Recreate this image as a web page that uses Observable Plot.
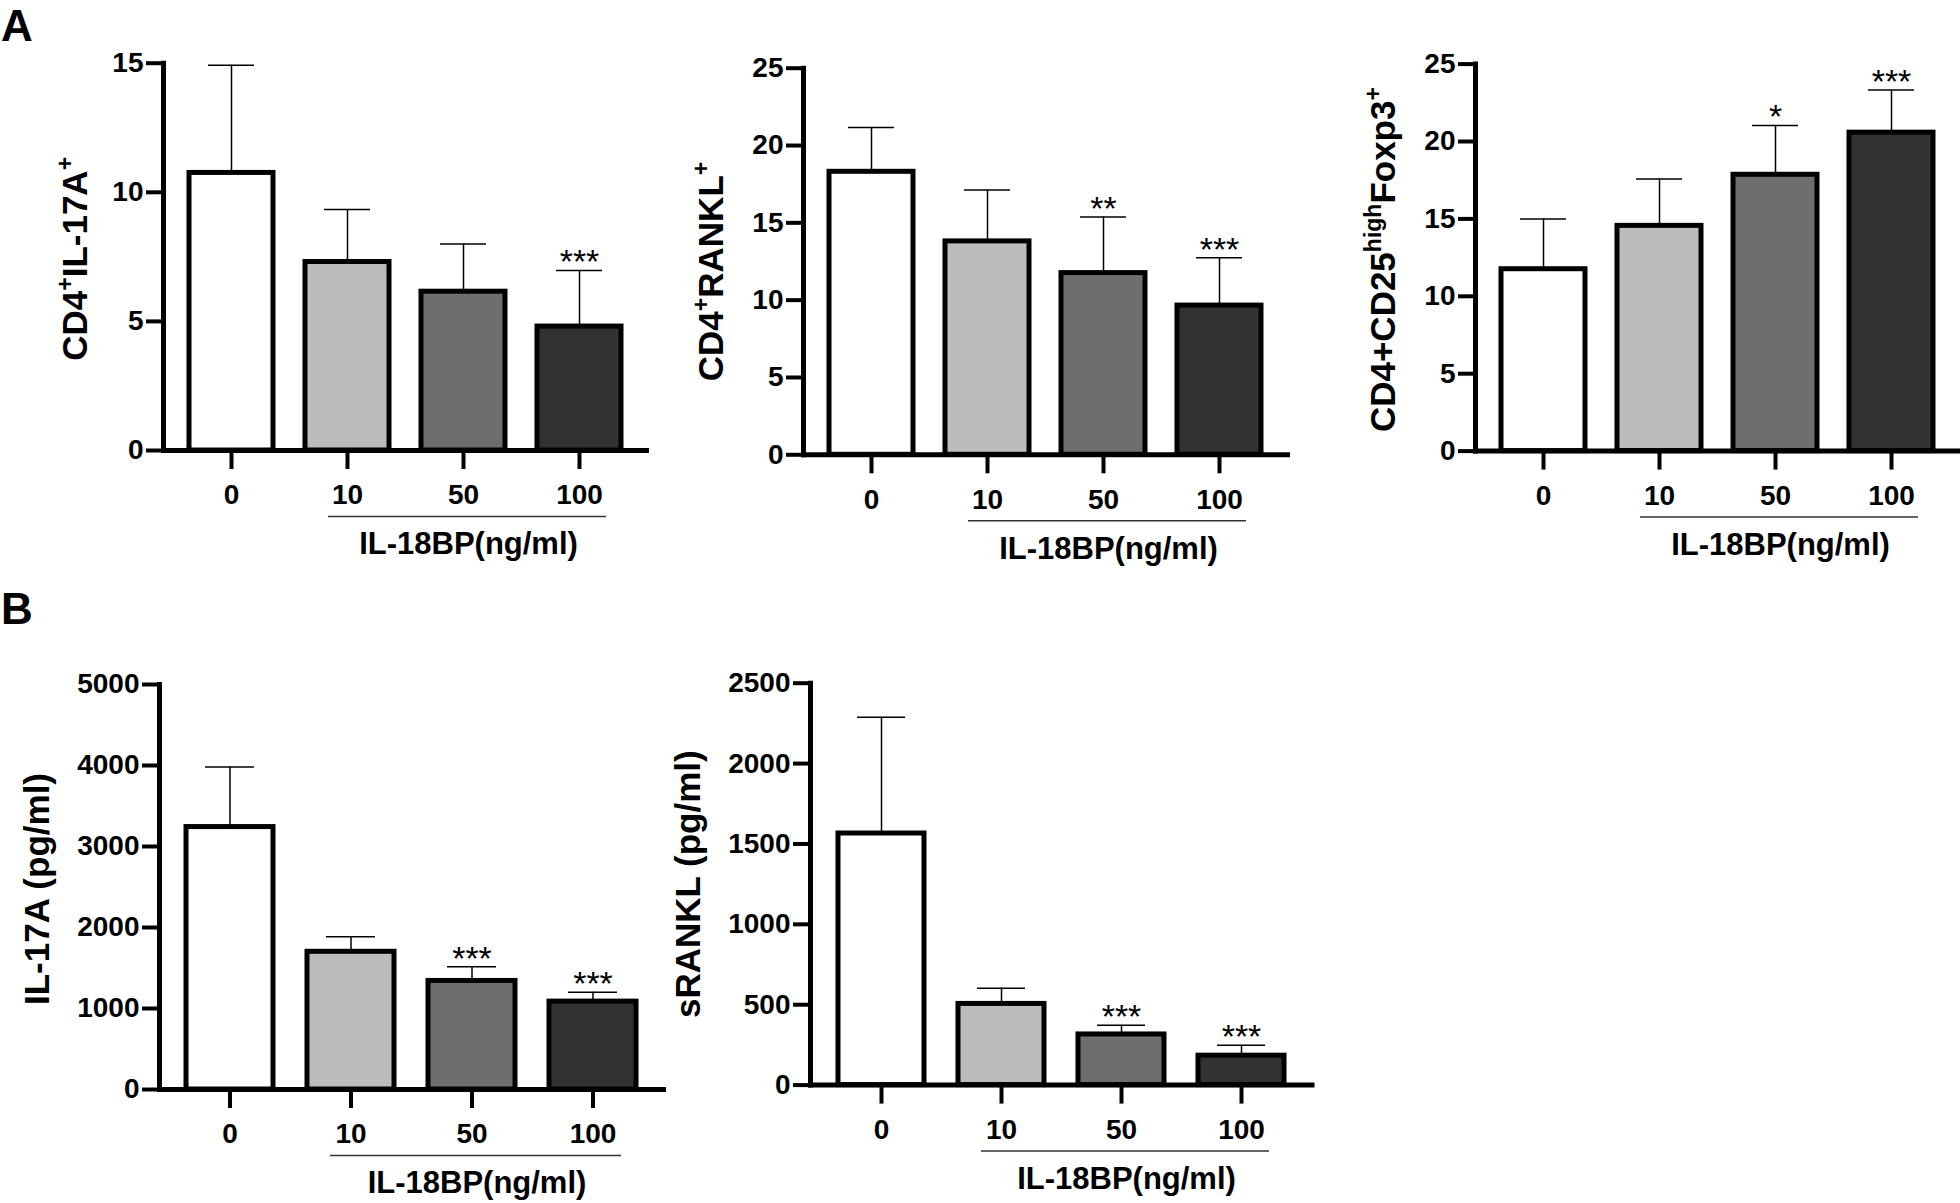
<!DOCTYPE html>
<html>
<head>
<meta charset="utf-8">
<script src="https://cdn.jsdelivr.net/npm/d3@7"></script>
<script src="https://cdn.jsdelivr.net/npm/@observablehq/plot@0.6"></script>
<style>
  html, body { margin: 0; padding: 0; background: #ffffff; }
  #fig { position: relative; width: 1960px; height: 1203px; overflow: hidden;
         font-family: "Liberation Sans", Arial, Helvetica, sans-serif; color: #000; }
  .panel { position: absolute; }
  .tag { position: absolute; font-weight: bold; font-size: 44px; line-height: 1; }
</style>
</head>
<body>
<div id="fig">
  <div class="tag" style="left:1px; top:4px;">A</div>
  <div class="tag" style="left:1px; top:587px;">B</div>
</div>
<script>
// ---------- data ----------
const doses = ["0", "10", "50", "100"];
const barFills = ["#ffffff", "#bcbcbc", "#6e6e6e", "#323232"];
const xTitle = "IL-18BP(ng/ml)";

const il17aPctMean = [10.75, 7.3, 6.15, 4.8];
const il17aPctSD   = [4.17, 2.03, 1.85, 2.17];
const il17aPctSig  = ["", "", "", "***"];
const il17aPctTicks = [0, 5, 10, 15];

const ranklPctMean = [18.3, 13.8, 11.75, 9.65];
const ranklPctSD   = [2.87, 3.33, 3.63, 3.1];
const ranklPctSig  = ["", "", "**", "***"];
const ranklPctTicks = [0, 5, 10, 15, 20, 25];

const tregPctMean = [11.75, 14.55, 17.85, 20.57];
const tregPctSD   = [3.25, 3.02, 3.18, 2.76];
const tregPctSig  = ["", "", "*", "***"];
const tregPctTicks = [0, 5, 10, 15, 20, 25];

const il17aConcMean = [3240, 1700, 1340, 1085];
const il17aConcSD   = [740, 187, 175, 115];
const il17aConcSig  = ["", "", "***", "***"];
const il17aConcTicks = [0, 1000, 2000, 3000, 4000, 5000];

const sranklConcMean = [1565, 505, 315, 183];
const sranklConcSD   = [723, 98, 57, 65];
const sranklConcSig  = ["", "", "***", "***"];
const sranklConcTicks = [0, 500, 1000, 1500, 2000, 2500];

// ---------- layout ----------
const panels = [
  {mean: il17aPctMean, sd: il17aPctSD, sig: il17aPctSig, ticks: il17aPctTicks, yLabel: "CD4^{+}IL-17A^{+}",
   left: 0, top: 0, width: 660, height: 580, mL: 163, mR: 14, mT: 62.7, mB: 130, labOff: 88, labDy: 2},
  {mean: ranklPctMean, sd: ranklPctSD, sig: ranklPctSig, ticks: ranklPctTicks, yLabel: "CD4^{+}RANKL^{+}",
   left: 660, top: 0, width: 650, height: 580, mL: 143, mR: 23, mT: 67.7, mB: 125.7, labOff: 92, labDy: 10},
  {mean: tregPctMean, sd: tregPctSD, sig: tregPctSig, ticks: tregPctTicks, yLabel: "CD4+CD25^{high}Foxp3^{+}",
   left: 1310, top: 0, width: 650, height: 580, mL: 165, mR: 2, mT: 63.6, mB: 129.4, labOff: 92, labDy: 2},
  {mean: il17aConcMean, sd: il17aConcSD, sig: il17aConcSig, ticks: il17aConcTicks, yLabel: "IL-17A (pg/ml)",
   left: 0, top: 580, width: 680, height: 623, mL: 159, mR: 17, mT: 104, mB: 114, labOff: 122, labDy: 2},
  {mean: sranklConcMean, sd: sranklConcSD, sig: sranklConcSig, ticks: sranklConcTicks, yLabel: "sRANKL (pg/ml)",
   left: 680, top: 580, width: 650, height: 623, mL: 130, mR: 18.5, mT: 102.7, mB: 118.4, labOff: 122, labDy: 0}
];

const FONT = "'Liberation Sans', Arial, Helvetica, sans-serif";

function applySuperscripts(svg) {
  svg.querySelectorAll("text").forEach((t) => {
    const s = t.textContent;
    if (!s.includes("^{")) return;
    while (t.firstChild) t.removeChild(t.firstChild);
    const re = /\^\{([^}]*)\}/g;
    let last = 0, m, shift = 0;
    const NS = "http://www.w3.org/2000/svg";
    const add = (str, sup) => {
      if (!str) return;
      const ts = document.createElementNS(NS, "tspan");
      ts.textContent = str;
      if (sup) {
        ts.setAttribute("font-size", "23");
        ts.setAttribute("dy", "-14");
        shift = 14;
      } else if (shift) {
        ts.setAttribute("dy", String(shift));
        shift = 0;
      }
      t.appendChild(ts);
    };
    while ((m = re.exec(s))) {
      add(s.slice(last, m.index), false);
      add(m[1], true);
      last = re.lastIndex;
    }
    add(s.slice(last), false);
  });
}

const fig = document.getElementById("fig");

for (const p of panels) {
  const rows = doses.map((d, i) => ({dose: d, mean: p.mean[i], sd: p.sd[i], sig: p.sig[i]}));
  const yMax = p.ticks[p.ticks.length - 1];
  const svg = Plot.plot({
    width: p.width,
    height: p.height,
    marginLeft: p.mL, marginRight: p.mR, marginTop: p.mT, marginBottom: p.mB,
    style: {fontFamily: FONT, fontWeight: "bold", color: "black", background: "transparent", overflow: "visible"},
    x: {type: "band", domain: doses, paddingInner: 0.28, paddingOuter: 0.22},
    y: {domain: [0, yMax]},
    color: {domain: doses, range: barFills},
    marks: [
      Plot.ruleX(rows, {x: "dose", y1: "mean", y2: (d) => d.mean + d.sd, stroke: "black", strokeWidth: 1.5}),
      Plot.tickY(rows, {x: "dose", y: (d) => d.mean + d.sd, insetLeft: 19, insetRight: 19, stroke: "black", strokeWidth: 1.5}),
      Plot.barY(rows, {x: "dose", y: "mean", fill: "dose", stroke: "black", strokeWidth: 5}),
      Plot.frame({anchor: "left", stroke: "black", strokeWidth: 5, strokeLinecap: "square"}),
      Plot.frame({anchor: "bottom", stroke: "black", strokeWidth: 5}),
      Plot.axisY({ticks: p.ticks, tickFormat: "d", tickSize: 17, tickPadding: 3, stroke: "black", strokeWidth: 4, fontSize: 28, label: null}),
      Plot.axisX({tickSize: 19, tickPadding: 15, stroke: "black", strokeWidth: 4, fontSize: 28, label: null}),
      Plot.ruleY([0], {x1: () => doses[1], x2: () => doses[3], dy: 66, insetLeft: 23, insetRight: 15, stroke: "#333333", strokeWidth: 1.5}),
      Plot.text([xTitle], {text: (d) => d, x: () => doses[2], frameAnchor: "bottom", dy: 94, dx: 5, fontSize: 31, lineAnchor: "middle"}),
      Plot.text([p.yLabel], {text: (d) => d, frameAnchor: "left", rotate: -90, dx: -p.labOff, dy: p.labDy, fontSize: 35, textAnchor: "middle", lineAnchor: "middle"}),
      Plot.text(rows, {x: "dose", y: (d) => d.mean + d.sd, text: "sig", dy: -8, fontSize: 34, fontWeight: "normal", lineAnchor: "middle"})
    ]
  });
  applySuperscripts(svg);
  const div = document.createElement("div");
  div.className = "panel";
  div.style.left = p.left + "px";
  div.style.top = p.top + "px";
  div.style.width = p.width + "px";
  div.style.height = p.height + "px";
  div.appendChild(svg);
  fig.appendChild(div);
}
</script>
</body>
</html>
